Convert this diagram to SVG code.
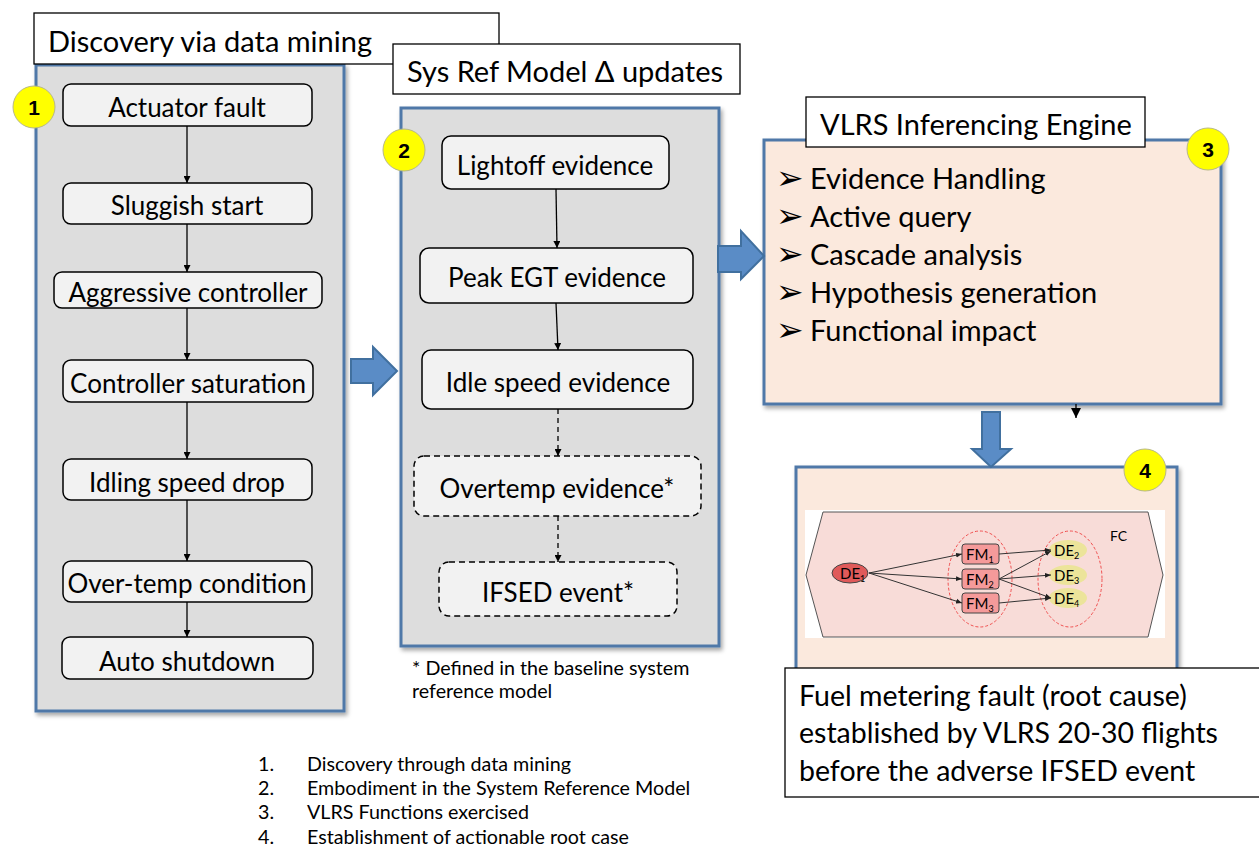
<svg xmlns="http://www.w3.org/2000/svg" width="1259" height="849" viewBox="0 0 1259 849">
<style>
text{font-family:Lato,"Open Sans","Liberation Sans",sans-serif;fill:#000}
.title{font-size:29px}
.node{fill:#f2f2f2;stroke:#000;stroke-width:1.5}
.dnode{fill:#f2f2f2;stroke:#000;stroke-width:1.5;stroke-dasharray:6 4}
.nt{font-size:26px;text-anchor:middle}
.panel{fill:#dddddd;stroke:#4f78a8;stroke-width:3;filter:url(#sh)}
.peach{fill:#fbe9dd;stroke:#4f78a8;stroke-width:3;filter:url(#sh)}
.tbox{fill:#fff;stroke:#000;stroke-width:1.3}
.circ{fill:#ffff00;stroke:#b8b888;stroke-width:1}
.num{font-family:"Liberation Sans",Arial,sans-serif;font-weight:bold;font-size:21px;text-anchor:middle}
.con{stroke:#000;stroke-width:1.3;fill:none}
.dcon{stroke:#000;stroke-width:1.3;fill:none;stroke-dasharray:5 4}
.big{fill:#5a8cc6;stroke:#41709f;stroke-width:2}
.bul{font-size:29px}
.bg{font-family:"DejaVu Sans",sans-serif;font-size:33px}
.small{font-size:19.7px}
.mini{stroke:#333;stroke-width:1;fill:none}
</style>
<defs>
<filter id="sh" x="-5%" y="-5%" width="115%" height="115%">
<feDropShadow dx="2" dy="3" stdDeviation="2" flood-color="#000" flood-opacity="0.35"/>
</filter>
<marker id="ah" viewBox="0 0 10 10" refX="10" refY="5" markerWidth="7" markerHeight="7" orient="auto" markerUnits="userSpaceOnUse">
<path d="M0,0 L10,5 L0,10 z" fill="#000"/>
</marker>
<marker id="ah2" viewBox="0 0 10 10" refX="10" refY="5" markerWidth="10" markerHeight="10" orient="auto" markerUnits="userSpaceOnUse">
<path d="M0,0 L10,5 L0,10 z" fill="#000"/>
</marker>
<marker id="am" viewBox="0 0 10 10" refX="10" refY="5" markerWidth="6" markerHeight="6" orient="auto" markerUnits="userSpaceOnUse">
<path d="M0,1 L10,5 L0,9 z" fill="#222"/>
</marker>
</defs>

<!-- Panel 1 -->
<g id="panel1">
<rect class="panel" x="36" y="65" width="308" height="646"/>
</g>
<g id="title1">
<rect class="tbox" x="34" y="13" width="465" height="51"/>
<text class="title" x="48" y="52">Discovery via data mining</text>
</g>

<!-- Panel 2 -->
<g id="panel2">
<rect class="panel" x="401" y="108" width="318" height="538"/>
</g>
<g id="title2">
<rect class="tbox" x="393" y="44" width="347" height="50"/>
<text class="title" x="407" y="82">Sys Ref Model Δ updates</text>
</g>

<!-- Panel 3 -->
<g id="panel3">
<rect class="peach" x="764" y="140" width="457" height="264"/>
<rect class="tbox" x="806" y="97" width="339" height="50"/>
<text class="title" x="820" y="135">VLRS Inferencing Engine</text>
<text class="bul" x="776" y="189"><tspan class="bg">➢</tspan><tspan x="810">Evidence Handling</tspan></text>
<text class="bul" x="776" y="227"><tspan class="bg">➢</tspan><tspan x="810">Active query</tspan></text>
<text class="bul" x="776" y="265"><tspan class="bg">➢</tspan><tspan x="810">Cascade analysis</tspan></text>
<text class="bul" x="776" y="303"><tspan class="bg">➢</tspan><tspan x="810">Hypothesis generation</tspan></text>
<text class="bul" x="776" y="341"><tspan class="bg">➢</tspan><tspan x="810">Functional impact</tspan></text>
</g>

<!-- Panel 4 -->
<g id="panel4">
<rect class="peach" x="796" y="467" width="381" height="215"/>
<rect x="805" y="510" width="360" height="128" fill="#fff"/>
<polygon points="806,575 823,512 1148,512 1163,575 1148,637 823,637" fill="#f8dcd8" stroke="#555" stroke-width="1"/>
<ellipse cx="980" cy="579" rx="32" ry="48" fill="none" stroke="#f05050" stroke-width="1" stroke-dasharray="3 2"/>
<ellipse cx="1070" cy="579" rx="32" ry="48" fill="none" stroke="#f05050" stroke-width="1" stroke-dasharray="3 2"/>
<ellipse cx="850" cy="573" rx="18" ry="10" fill="#e05a5a" stroke="#444" stroke-width="1"/>
<text x="840" y="579" font-size="15" fill="#222">DE<tspan font-size="9" dy="3">1</tspan></text>
<rect x="962" y="544" width="37" height="20" rx="3" fill="#f59a9a" stroke="#444" stroke-width="1"/>
<rect x="962" y="569" width="37" height="20" rx="3" fill="#f59a9a" stroke="#444" stroke-width="1"/>
<rect x="962" y="593" width="37" height="20" rx="3" fill="#f59a9a" stroke="#444" stroke-width="1"/>
<text x="966" y="560" font-size="15" fill="#222">FM<tspan font-size="9" dy="3">1</tspan></text>
<text x="966" y="585" font-size="15" fill="#222">FM<tspan font-size="9" dy="3">2</tspan></text>
<text x="966" y="609" font-size="15" fill="#222">FM<tspan font-size="9" dy="3">3</tspan></text>
<ellipse cx="1068" cy="550" rx="19" ry="10" fill="#ece49a"/>
<ellipse cx="1068" cy="575" rx="19" ry="10" fill="#ece49a"/>
<ellipse cx="1068" cy="598" rx="19" ry="10" fill="#ece49a"/>
<text x="1054" y="556" font-size="15" fill="#888">DE<tspan font-size="9" dy="3">2</tspan></text>
<text x="1054" y="581" font-size="15" fill="#888">DE<tspan font-size="9" dy="3">3</tspan></text>
<text x="1054" y="604" font-size="15" fill="#888">DE<tspan font-size="9" dy="3">4</tspan></text>
<text x="1110" y="541" font-size="14" fill="#222">FC</text>
<path class="mini" marker-end="url(#am)" d="M869,573 L962,554"/>
<path class="mini" marker-end="url(#am)" d="M869,573 L962,579"/>
<path class="mini" marker-end="url(#am)" d="M869,573 L962,603"/>
<path class="mini" marker-end="url(#am)" d="M999,554 L1051,550"/>
<path class="mini" marker-end="url(#am)" d="M999,579 L1051,551"/>
<path class="mini" marker-end="url(#am)" d="M999,579 L1051,575"/>
<path class="mini" marker-end="url(#am)" d="M999,579 L1051,598"/>
<path class="mini" marker-end="url(#am)" d="M999,603 L1051,598"/>
</g>

<g id="result">
<rect class="tbox" x="785" y="668" width="478" height="129"/>
<text x="799" y="706" font-size="28.5">Fuel metering fault (root cause)</text>
<text x="799" y="743" font-size="28.5">established by VLRS 20-30 flights</text>
<text x="799" y="781" font-size="28.5">before the adverse IFSED event</text>
</g>

<!-- Nodes panel 1 -->
<g id="n-actuator"><rect class="node" x="63" y="84" width="249" height="42" rx="8"/><text class="nt" x="187" y="117">Actuator fault</text></g>
<g id="n-sluggish"><rect class="node" x="63" y="183" width="249" height="41" rx="8"/><text class="nt" x="187" y="215">Sluggish start</text></g>
<g id="n-aggressive"><rect class="node" x="54" y="272" width="268" height="36" rx="8"/><text class="nt" x="188" y="302">Aggressive controller</text></g>
<g id="n-saturation"><rect class="node" x="63" y="360" width="250" height="42" rx="8"/><text class="nt" x="188" y="393">Controller saturation</text></g>
<g id="n-idling"><rect class="node" x="63" y="459" width="249" height="41" rx="8"/><text class="nt" x="187" y="492">Idling speed drop</text></g>
<g id="n-overtemp"><rect class="node" x="63" y="561" width="249" height="41" rx="8"/><text class="nt" x="187" y="593">Over-temp condition</text></g>
<g id="n-shutdown"><rect class="node" x="62" y="637" width="251" height="42" rx="8"/><text class="nt" x="187" y="671">Auto shutdown</text></g>

<!-- Nodes panel 2 -->
<g id="n-lightoff"><rect class="node" x="442" y="136" width="227" height="53" rx="9"/><text class="nt" x="555" y="175">Lightoff evidence</text></g>
<g id="n-peakegt"><rect class="node" x="420" y="248" width="273" height="55" rx="9"/><text class="nt" x="557" y="287">Peak EGT evidence</text></g>
<g id="n-idle"><rect class="node" x="422" y="350" width="271" height="59" rx="9"/><text class="nt" x="558" y="392">Idle speed evidence</text></g>
<g id="n-overtempev"><rect class="dnode" x="414" y="456" width="287" height="60" rx="10"/><text class="nt" x="557" y="498">Overtemp evidence*</text></g>
<g id="n-ifsed"><rect class="dnode" x="439" y="562" width="238" height="54" rx="10"/><text class="nt" x="558" y="602">IFSED event*</text></g>

<g id="note">
<text class="small" x="412" y="675">* Defined in the baseline system</text>
<text class="small" x="412" y="698">reference model</text>
</g>

<g id="legend">
<text class="small" x="258" y="771">1.</text><text class="small" x="307" y="771">Discovery through data mining</text>
<text class="small" x="258" y="795">2.</text><text class="small" x="307" y="795">Embodiment in the System Reference Model</text>
<text class="small" x="258" y="819">3.</text><text class="small" x="307" y="819">VLRS Functions exercised</text>
<text class="small" x="258" y="844">4.</text><text class="small" x="307" y="844">Establishment of actionable root case</text>
</g>

<!-- Badges -->
<g id="badge1"><circle class="circ" cx="34" cy="107" r="21"/><text class="num" x="34" y="115">1</text></g>
<g id="badge2"><circle class="circ" cx="404" cy="150" r="21"/><text class="num" x="404" y="158">2</text></g>
<g id="badge3"><circle class="circ" cx="1208" cy="149" r="21"/><text class="num" x="1208" y="157">3</text></g>
<g id="badge4"><circle class="circ" cx="1145" cy="470" r="21"/><text class="num" x="1145" y="478">4</text></g>

<!-- Connectors -->
<g id="connectors">
<path class="con" marker-end="url(#ah)" d="M187,126 L187,183"/>
<path class="con" marker-end="url(#ah)" d="M187,224 L187,272"/>
<path class="con" marker-end="url(#ah)" d="M187,308 L187,360"/>
<path class="con" marker-end="url(#ah)" d="M187,402 L187,459"/>
<path class="con" marker-end="url(#ah)" d="M187,500 L187,561"/>
<path class="con" marker-end="url(#ah)" d="M187,602 L187,637"/>
<path class="con" marker-end="url(#ah)" d="M556,189 L557,248"/>
<path class="con" marker-end="url(#ah)" d="M556,303 L558,350"/>
<path class="dcon" marker-end="url(#ah)" d="M558,409 L558,456"/>
<path class="dcon" marker-end="url(#ah)" d="M558,516 L558,562"/>
<path class="con" marker-end="url(#ah2)" d="M1076,404 L1076,418"/>
<polygon class="big" points="351,359 373,359 373,347 397,371 373,395 373,383 351,383"/>
<polygon class="big" points="718,246 741,246 741,231 764,256 741,279 741,272 718,272"/>
<polygon class="big" points="982,412 1000,412 1000,449 1011,449 991,467 972,449 982,449"/>
</g>
</svg>
